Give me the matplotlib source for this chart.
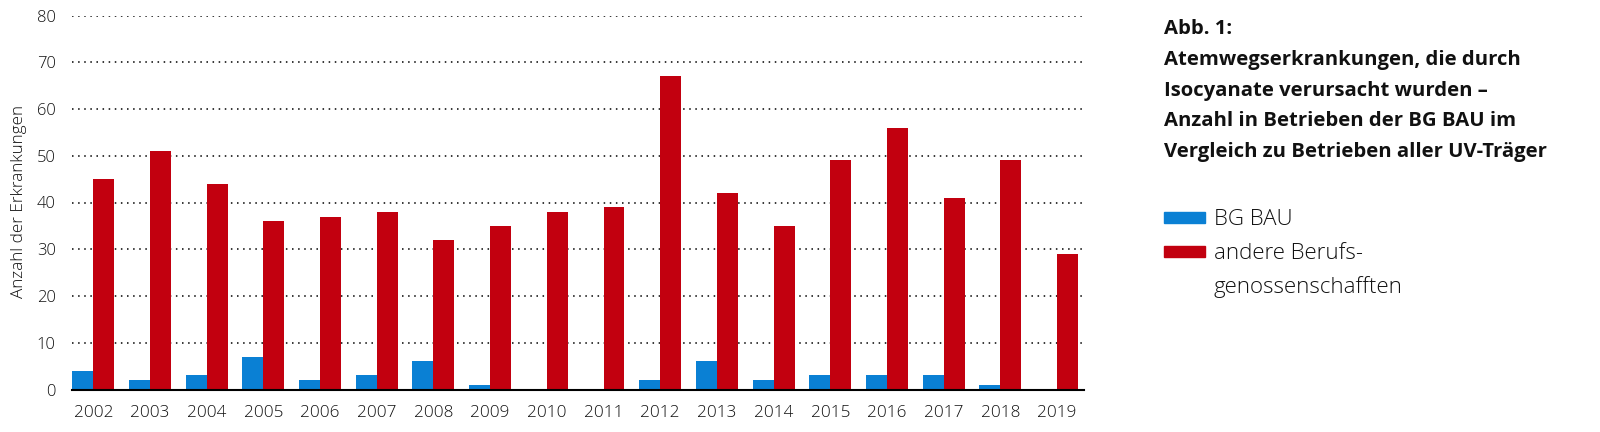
import matplotlib
matplotlib.use("Agg")
import matplotlib.pyplot as plt
import numpy as np
from matplotlib.patches import Rectangle

years = ["2002", "2003", "2004", "2005", "2006", "2007", "2008", "2009", "2010",
         "2011", "2012", "2013", "2014", "2015", "2016", "2017", "2018", "2019"]
bg_bau = [4, 2, 3, 7, 2, 3, 6, 1, 0, 0, 2, 6, 2, 3, 3, 3, 1, 0]
andere = [45, 51, 44, 36, 37, 38, 32, 35, 38, 39, 67, 42, 35, 49, 56, 41, 49, 29]
yticks = [0, 10, 20, 30, 40, 50, 60, 70, 80]
series_names = ["BG BAU", "andere Berufs-\ngenossenschafften"]
title_lines = ["Abb. 1:", "Atemwegserkrankungen, die durch",
               "Isocyanate verursacht wurden \u2013",
               "Anzahl in Betrieben der BG BAU im",
               "Vergleich zu Betrieben aller UV-Tr\u00e4ger"]
ylabel = "Anzahl der Erkrankungen"

BLUE = "#0a80d4"
RED = "#c2000f"
H = 432.0
W = 1600.0

plt.rcParams['font.family'] = ['Open Sans', 'DejaVu Sans']

fig = plt.figure(figsize=(16, 4.32), dpi=100)
ax = fig.add_axes([71.7/W, 1-389.5/H, (1083.7-71.7)/W, (389.5-15.5)/H])

x = np.arange(len(years))
w = 0.37
b1 = ax.bar(x - w/2, bg_bau, width=w, color=BLUE, zorder=3)
b2 = ax.bar(x + w/2, andere, width=w, color=RED, zorder=3)

ax.set_xlim(-0.381, len(years) - 1 + 0.47)
ax.set_ylim(0, 80)
ax.set_yticks(yticks)
ax.set_yticklabels([str(t) for t in yticks], fontsize=12, fontweight='light')
ax.set_xticks(x)
ax.set_xticklabels(years, fontsize=12.3, fontweight='light')
ax.tick_params(axis='both', length=0, colors='#111111')
ax.tick_params(axis='y', pad=11.5)
ax.tick_params(axis='x', pad=11.5)

for s in ['top', 'right', 'left']:
    ax.spines[s].set_visible(False)
ax.spines['bottom'].set_linewidth(1.5)
ax.spines['bottom'].set_zorder(4)

for t in yticks[1:]:
    ax.axhline(t, color='black', linestyle=(0, (1, 3)), linewidth=1.1, zorder=1)

fig.text(19/W, 1-201.5/H, ylabel, rotation=90, ha='center', va='center',
         fontsize=12.3, fontweight='light', color='#111111')

# Title block
tx = 1164/W
baselines = [34, 65.5, 96, 126, 156.5]
for line, bl in zip(title_lines, baselines):
    fig.text(tx, 1-bl/H, line, ha='left', va='baseline',
             fontsize=14.6, fontweight='bold', color='#111111')

# Legend
rects = [(212.0, 223.0, b1.patches[0].get_facecolor()),
         (246.0, 257.0, b2.patches[0].get_facecolor())]
for (top, bot, col) in rects:
    fig.patches.append(Rectangle((1164/W, 1-bot/H), 41/W, (bot-top)/H,
                                 transform=fig.transFigure, color=col, figure=fig))
name2 = series_names[1].split("\n")
legend_texts = [(series_names[0], 225), (name2[0], 259), (name2[1], 293)]
for txt, bl in legend_texts:
    fig.text(1214/W, 1-bl/H, txt, ha='left', va='baseline',
             fontsize=16, fontweight='light', color='#111111')

fig.savefig("out.png", dpi=100)
